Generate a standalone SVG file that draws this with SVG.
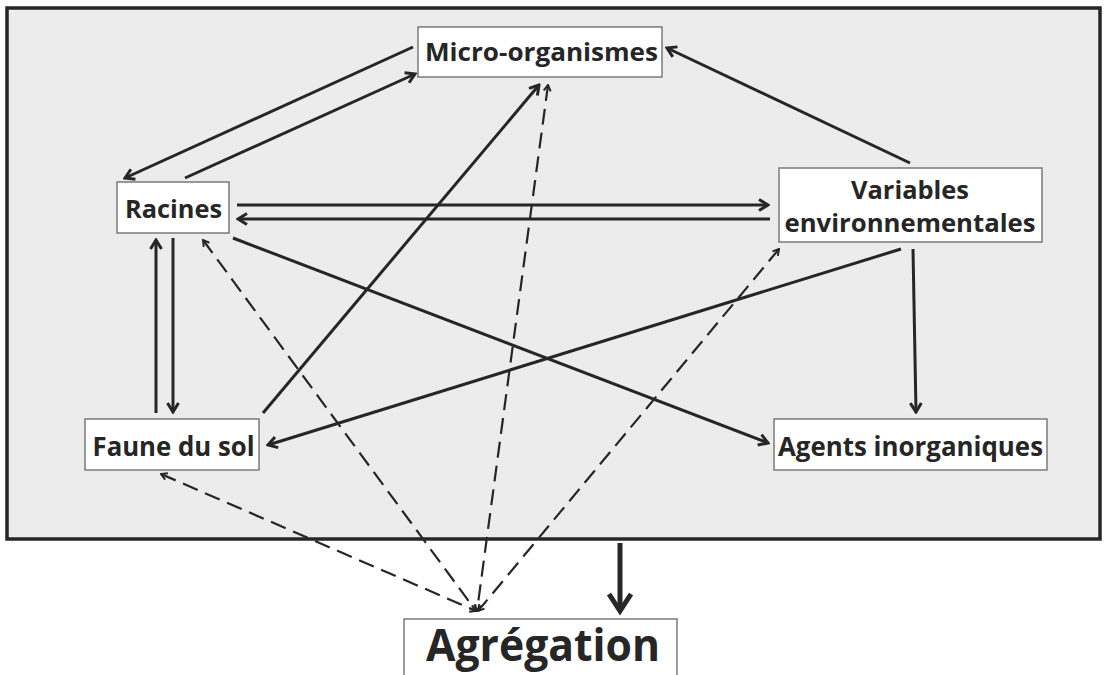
<svg xmlns="http://www.w3.org/2000/svg" width="1106" height="675" viewBox="0 0 1106 675">
<style>
.box{fill:#ffffff;stroke:#7a7a7a;stroke-width:1.5}
.lbl{font-family:"Open Sans","Liberation Sans",sans-serif;font-weight:bold;fill:#262626;text-anchor:middle}
.solid{stroke:#262626;stroke-width:3;fill:none;marker-end:url(#ah)}
.dash{stroke:#262626;stroke-width:2.2;fill:none;stroke-dasharray:16 8;marker-start:url(#sa);marker-end:url(#sb)}
</style>
<defs>
<marker id="ah" viewBox="0 0 14 14" markerWidth="14" markerHeight="14" refX="12" refY="7" orient="auto" markerUnits="userSpaceOnUse">
<path d="M3,1.5 L12,7 L3,12.5" fill="none" stroke="#262626" stroke-width="3"/>
</marker>
<marker id="sa" viewBox="0 0 9 9" markerWidth="9" markerHeight="9" refX="8" refY="4.5" orient="auto-start-reverse" markerUnits="userSpaceOnUse">
<path d="M2,1 L8,4.5 L2,8" fill="none" stroke="#262626" stroke-width="2"/>
</marker>
<marker id="sb" viewBox="0 0 9 9" markerWidth="9" markerHeight="9" refX="8" refY="4.5" orient="auto" markerUnits="userSpaceOnUse">
<path d="M2,1 L8,4.5 L2,8" fill="none" stroke="#262626" stroke-width="2"/>
</marker>
<marker id="big" viewBox="0 0 26 26" markerWidth="26" markerHeight="26" refX="21" refY="13" orient="auto" markerUnits="userSpaceOnUse">
<path d="M4,2 L21,13 L4,24" fill="none" stroke="#262626" stroke-width="5"/>
</marker>
</defs>
<rect x="0" y="0" width="1106" height="675" fill="#ffffff"/>
<rect id="panel" x="7" y="8" width="1093" height="531" fill="#ececec" stroke="#262626" stroke-width="3.5"/>

<g id="connectors">
<line class="solid" x1="413" y1="47" x2="125" y2="178"/>
<line class="solid" x1="185" y1="178" x2="415" y2="74"/>
<line class="solid" x1="910" y1="163" x2="667" y2="48"/>
<line class="solid" x1="237" y1="205" x2="768" y2="205"/>
<line class="solid" x1="770" y1="219" x2="238" y2="219"/>
<line class="solid" x1="263" y1="413" x2="539" y2="85"/>
<line class="solid" x1="233" y1="238" x2="768" y2="443"/>
<line class="solid" x1="901" y1="249" x2="268" y2="445"/>
<line class="solid" x1="913" y1="249" x2="916" y2="412"/>
<line class="solid" x1="156" y1="413" x2="156" y2="240"/>
<line class="solid" x1="173" y1="238" x2="173" y2="412"/>
<line stroke="#262626" stroke-width="5" x1="620" y1="543" x2="620" y2="611" marker-end="url(#big)"/>
<line class="dash" x1="161" y1="474" x2="476" y2="611"/>
<line class="dash" x1="203" y1="240" x2="476" y2="611"/>
<line class="dash" x1="548" y1="85" x2="477" y2="611"/>
<line class="dash" x1="779" y1="249" x2="478" y2="611"/>
</g>

<g id="micro">
<rect class="box" x="418" y="27" width="244" height="50"/>
<text class="lbl" x="541.5" y="60.5" font-size="25.5" textLength="233" lengthAdjust="spacingAndGlyphs">Micro-organismes</text>
</g>
<g id="racines">
<rect class="box" x="117" y="182" width="112" height="51"/>
<text class="lbl" x="173.5" y="217.5" font-size="25.5" textLength="97" lengthAdjust="spacingAndGlyphs">Racines</text>
</g>
<g id="variables">
<rect class="box" x="779" y="168" width="263" height="74"/>
<text class="lbl" x="910" y="199" font-size="24.5" textLength="118" lengthAdjust="spacingAndGlyphs">Variables</text>
<text class="lbl" x="910" y="231.5" font-size="24.5" textLength="251" lengthAdjust="spacingAndGlyphs">environnementales</text>
</g>
<g id="faune">
<rect class="box" x="85" y="419" width="174" height="51"/>
<text class="lbl" x="173.5" y="456" font-size="26.5" textLength="162" lengthAdjust="spacingAndGlyphs">Faune du sol</text>
</g>
<g id="agents">
<rect class="box" x="774" y="419" width="273" height="51"/>
<text class="lbl" x="910.5" y="456" font-size="26.5" textLength="265" lengthAdjust="spacingAndGlyphs">Agents inorganiques</text>
</g>
<g id="agregation">
<rect class="box" x="404" y="619" width="273" height="70"/>
<text class="lbl" x="543" y="661" font-size="45" textLength="234" lengthAdjust="spacingAndGlyphs">Agrégation</text>
</g>
</svg>
